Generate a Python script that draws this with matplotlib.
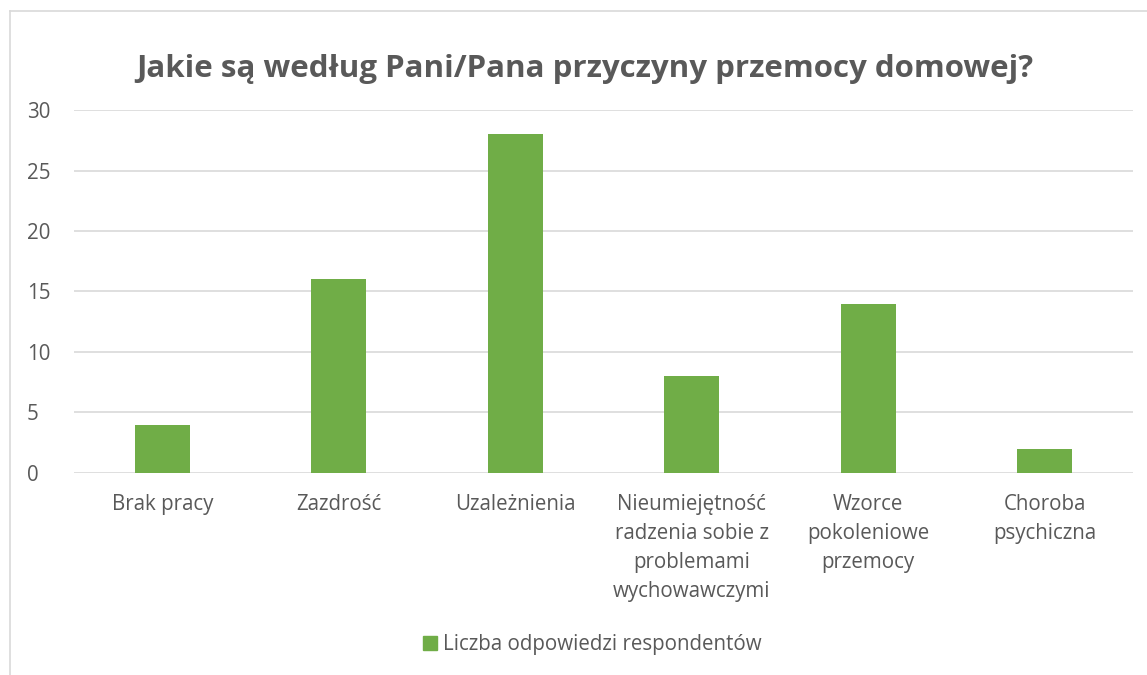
import numpy as np
import matplotlib.pyplot as plt
from matplotlib.lines import Line2D

# data
categories = [
    "Brak pracy",
    "Zazdrość",
    "Uzależnienia",
    "Nieumiejętność\nradzenia sobie z\nproblemami\nwychowawczymi",
    "Wzorce\npokoleniowe\nprzemocy",
    "Choroba\npsychiczna",
]
values = [4, 16, 28, 8, 14, 2]
series_name = "Liczba odpowiedzi respondentów"
title = "Jakie są według Pani/Pana przyczyny przemocy domowej?"

plt.rcParams['font.family'] = ['Open Sans', 'DejaVu Sans']
text_col = '#595959'
bar_col = '#70AD47'
grid_col = '#D9D9D9'

fig = plt.figure(figsize=(11.47, 6.75), dpi=100)
ax = fig.add_axes([0.0645, 0.2993, 0.9233, 0.5377])

x = np.arange(len(categories))
ax.bar(x, values, width=0.31, color=bar_col, label=series_name, zorder=3)

ax.set_xlim(-0.5, len(categories) - 0.5)
ax.set_ylim(0, 30)
ax.set_yticks(np.arange(0, 31, 5))
ax.yaxis.grid(True, color=grid_col, linewidth=1.2, zorder=0)
ax.set_xticks(x)
ax.set_xticklabels(categories, linespacing=1.5, va='top')
ax.tick_params(axis='both', length=0, labelsize=14.8, labelcolor=text_col)
ax.tick_params(axis='x', pad=15)
ax.tick_params(axis='y', pad=34)
for lbl in ax.get_yticklabels():
    lbl.set_horizontalalignment('left')
for s in ax.spines.values():
    s.set_visible(False)

fig.text(0.51, 0.898, title, ha='center', va='center', fontsize=22.5,
         fontweight='bold', color=text_col)

handle = Line2D([], [], marker='s', linestyle='none', markersize=10,
                markerfacecolor=bar_col, markeredgecolor=bar_col)
fig.legend([handle], [series_name], loc='center', bbox_to_anchor=(0.515, 0.045),
           frameon=False, fontsize=14.8, labelcolor=text_col, handletextpad=0.1,
           handlelength=1.0)

# chart area border (left and top visible)
fig.add_artist(Line2D([0.0087, 0.0087], [0, 0.984], color=grid_col, lw=1.2,
                      transform=fig.transFigure))
fig.add_artist(Line2D([0.0087, 1.0], [0.984, 0.984], color=grid_col, lw=1.2,
                      transform=fig.transFigure))

fig.savefig('out.png', dpi=100)
